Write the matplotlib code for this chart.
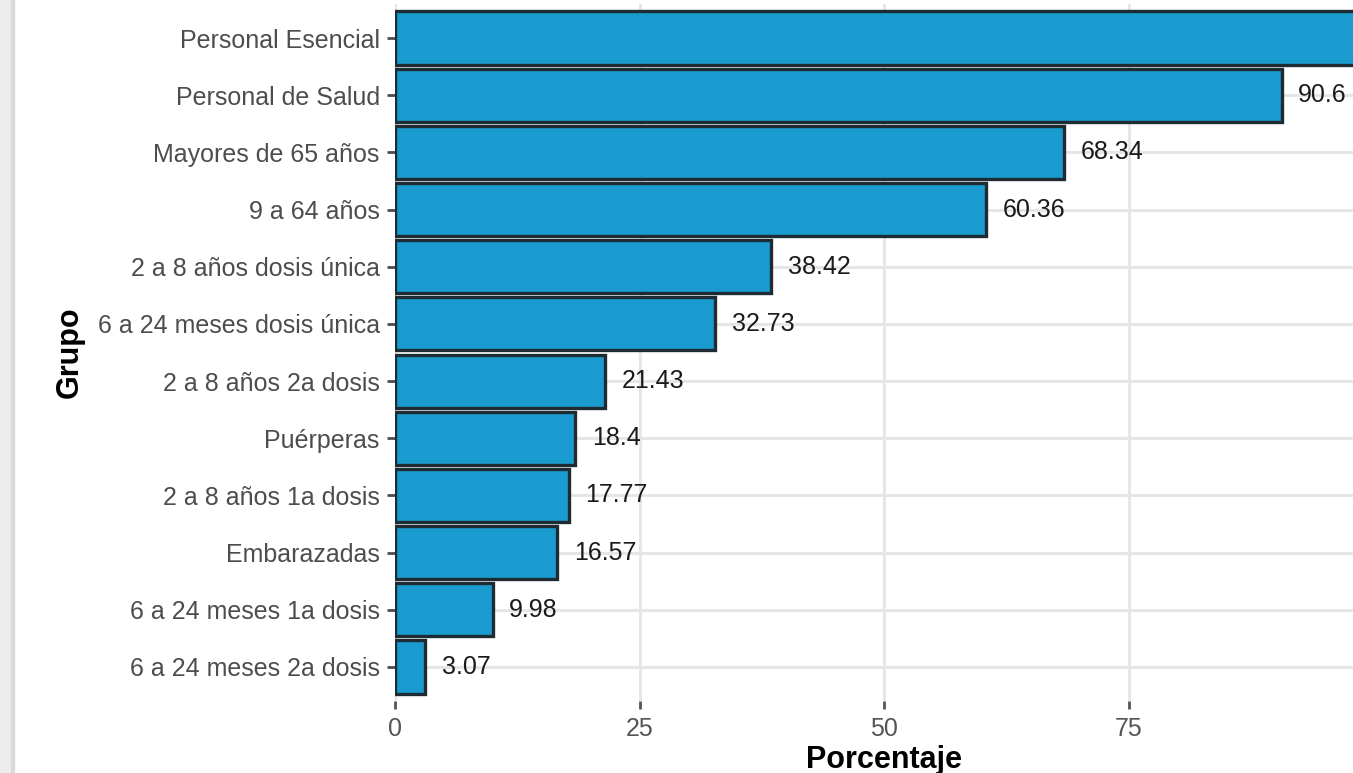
import matplotlib
matplotlib.use("Agg")
import matplotlib.pyplot as plt
from matplotlib.patches import Rectangle

plt.rcParams['font.family'] = ['Liberation Sans', 'DejaVu Sans']

grupos = ["Personal Esencial", "Personal de Salud", "Mayores de 65 años", "9 a 64 años",
          "2 a 8 años dosis única", "6 a 24 meses dosis única", "2 a 8 años 2a dosis",
          "Puérperas", "2 a 8 años 1a dosis", "Embarazadas", "6 a 24 meses 1a dosis",
          "6 a 24 meses 2a dosis"]
porcentaje = [100.0, 90.6, 68.34, 60.36, 38.42, 32.73, 21.43, 18.4, 17.77, 16.57, 9.98, 3.07]
etiquetas = ["100", "90.6", "68.34", "60.36", "38.42", "32.73", "21.43", "18.4", "17.77",
             "16.57", "9.98", "3.07"]
xticks = [0, 25, 50, 75]
xmax = 97.9  # el grafico original esta recortado a la derecha

W, H = 1353, 773
fig = plt.figure(figsize=(W / 100, H / 100), dpi=100)
ax = fig.add_axes([395 / W, 1 - 701.3 / H, (W - 395) / W, 697.6 / H])

ypos = list(range(len(grupos)))
ax.barh(ypos, porcentaje, height=0.93, color='#1a9bcf', edgecolor='#1f2b33', linewidth=2.4, zorder=2)
for y, v, t in zip(ypos, porcentaje, etiquetas):
    if v >= xmax:
        continue  # la etiqueta queda fuera del recorte
    ax.annotate(t, (v, y), xytext=(12, 0), textcoords='offset points', ha='left', va='center',
                fontsize=18, color='#1a1a1a', zorder=3)

ax.set_xlim(0, xmax)
ax.set_ylim(len(grupos) - 0.4, -0.6)
ax.set_yticks(ypos)
ax.set_yticklabels(grupos)
ax.set_xticks(xticks)
ax.set_xticklabels([str(x) for x in xticks])

ax.grid(True, color='#e6e6e6', linewidth=2.2, zorder=0)
ax.set_axisbelow(True)
for s in ax.spines.values():
    s.set_visible(False)
ax.tick_params(axis='both', colors='#4d4d4d', labelsize=18, length=6, width=2, pad=5)
ax.tick_params(axis='x', colors='#555555', labelcolor='#555555')

ax.set_xlabel("Porcentaje", fontsize=22, fontweight='bold', color='black')
ax.set_ylabel("Grupo", fontsize=22, fontweight='bold', color='black')
ax.xaxis.set_label_coords((884 - 395) / (W - 395), (701.3 - 760) / 697.6)
ax.xaxis.label.set_va('center')
ax.yaxis.set_label_coords((70 - 395) / (W - 395), 0.5)
ax.yaxis.label.set_va('center')

# franja gris del visor a la izquierda
fig.patches.append(Rectangle((0, 0), 11 / W, 1, transform=fig.transFigure, color='#ececec', zorder=0))
fig.patches.append(Rectangle((11 / W, 0), 3 / W, 1, transform=fig.transFigure, color='#d9d9d9', zorder=0))

fig.savefig("out.png", dpi=100)
